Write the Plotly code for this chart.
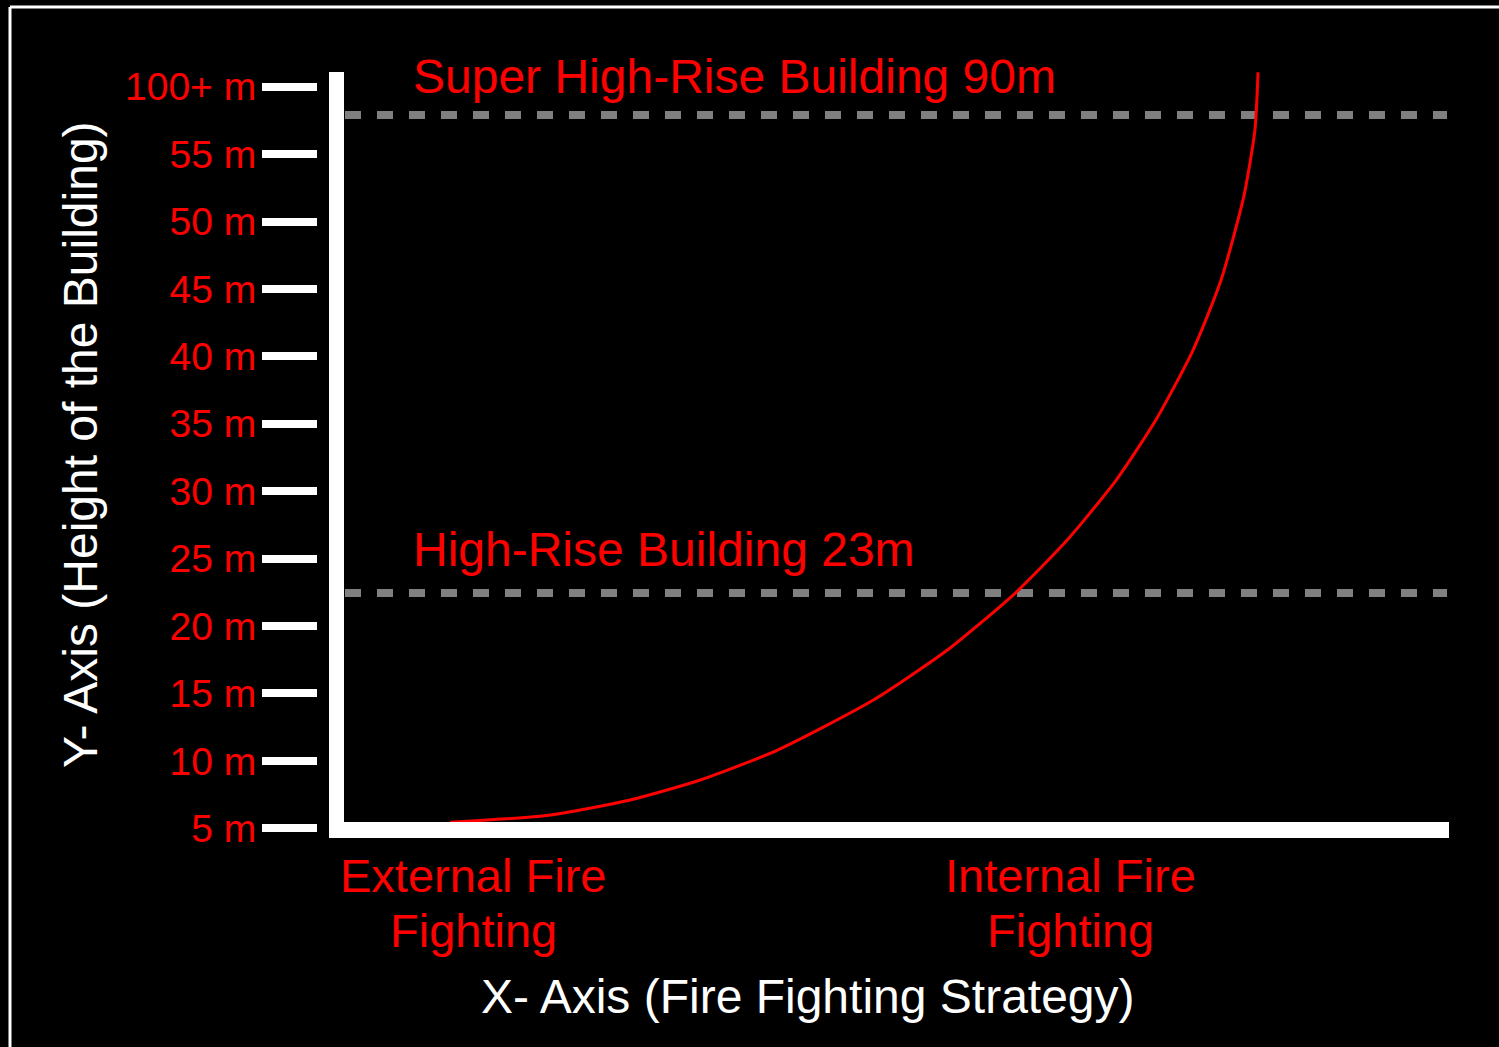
import plotly.graph_objects as go

# ---- data ----
tick_labels = ["5 m", "10 m", "15 m", "20 m", "25 m", "30 m", "35 m", "40 m",
               "45 m", "50 m", "55 m", "100+ m"]
tick_pos = list(range(len(tick_labels)))

# curve (x: strategy position 0..100, y: height in tick-index units)
curve_x = [10.80, 19.64, 26.79, 33.08, 40.00, 48.57, 55.18, 61.25, 65.89, 70.27,
           73.81, 77.14, 79.64, 81.68, 82.67, 82.95]
curve_y = [0.089, 0.193, 0.415, 0.712, 1.157, 1.899, 2.640, 3.486, 4.272, 5.162,
           6.052, 7.090, 8.128, 9.374, 10.353, 11.213]

level_names = ["High-Rise Building 23m", "Super High-Rise Building 90m"]
level_y = [3.49, 10.58]

strategy_labels = [["External Fire", "Fighting"], ["Internal Fire", "Fighting"]]
strategy_x = [12.86, 66.2]

RED = "#ff0000"
FONT = "Liberation Sans, Arial, Helvetica, sans-serif"

W, H = 1499, 1047
ML, MR, MT, MB = 318, 39, 53, 185
plot_w = W - ML - MR
plot_h = H - MT - MB
px_per_x = 11.2
xmin = -(329 - ML) / px_per_x
xmax = xmin + plot_w / px_per_x
ymin, ymax = -0.5, 11.5
px_per_y = plot_h / (ymax - ymin)


def ux(px):
    return xmin + (px - ML) / px_per_x


def uy(py):
    return ymax - (py - MT) / px_per_y


def pxp(px):
    return (px - ML) / plot_w


def pyp(py):
    return 1 - (py - MT) / plot_h


fig = go.Figure()

# dashed reference lines
for ly in level_y:
    fig.add_trace(go.Scatter(
        x=[ux(345), ux(1447)], y=[ly, ly], mode="lines",
        line=dict(color="#808080", width=8, dash="16px,16px"),
        hoverinfo="skip", showlegend=False, cliponaxis=False))

# curve
fig.add_trace(go.Scatter(
    x=curve_x, y=curve_y, mode="lines",
    line=dict(color=RED, width=3, shape="spline", smoothing=0.6),
    hoverinfo="skip", showlegend=False, cliponaxis=False))

shapes = []
# axis bars
shapes.append(dict(type="rect", xref="x", yref="y",
                   x0=ux(329), x1=ux(344), y0=uy(838), y1=uy(72),
                   fillcolor="white", line=dict(width=0), layer="above"))
shapes.append(dict(type="rect", xref="x", yref="y",
                   x0=ux(329), x1=ux(1449), y0=uy(838), y1=uy(822),
                   fillcolor="white", line=dict(width=0), layer="above"))
# frame lines (left and top)
shapes.append(dict(type="line", xref="paper", yref="paper",
                   x0=pxp(10), x1=pxp(10), y0=pyp(H + 5), y1=pyp(7),
                   line=dict(color="white", width=3)))
shapes.append(dict(type="line", xref="paper", yref="paper",
                   x0=pxp(10), x1=pxp(W + 5), y0=pyp(7), y1=pyp(7),
                   line=dict(color="white", width=3)))

annotations = []
# level labels
annotations.append(dict(x=pxp(411), y=pyp(549), xref="paper", yref="paper", text=level_names[0],
                        showarrow=False, xanchor="left", yanchor="middle",
                        font=dict(color=RED, size=48, family=FONT)))
annotations.append(dict(x=pxp(411), y=pyp(76), xref="paper", yref="paper", text=level_names[1],
                        showarrow=False, xanchor="left", yanchor="middle",
                        font=dict(color=RED, size=48, family=FONT)))
# strategy labels
for sx, lines in zip(strategy_x, strategy_labels):
    cx = 329 + sx * px_per_x
    for j, t in enumerate(lines):
        annotations.append(dict(x=pxp(cx), y=pyp(875 + 55 * j), xref="paper", yref="paper", text=t,
                                showarrow=False, xanchor="center", yanchor="middle",
                                font=dict(color=RED, size=47, family=FONT)))
# axis titles
annotations.append(dict(x=pxp(808), y=pyp(996), xref="paper", yref="paper",
                        text="X- Axis (Fire Fighting Strategy)", showarrow=False,
                        xanchor="center", yanchor="middle",
                        font=dict(color="white", size=48, family=FONT)))
annotations.append(dict(x=pxp(81), y=pyp(445), xref="paper", yref="paper",
                        text="Y- Axis (Height of the Building)", showarrow=False,
                        textangle=-90, xanchor="center", yanchor="middle",
                        font=dict(color="white", size=48, family=FONT)))

fig.update_layout(
    width=W, height=H,
    paper_bgcolor="black", plot_bgcolor="black",
    margin=dict(l=ML, r=MR, t=MT, b=MB, autoexpand=False),
    showlegend=False,
    shapes=shapes, annotations=annotations,
    xaxis=dict(range=[xmin, xmax], showgrid=False, zeroline=False, showline=False,
               showticklabels=False, ticks="", fixedrange=True),
    yaxis=dict(range=[ymin, ymax], showgrid=False, zeroline=False, showline=False,
               tickmode="array", tickvals=tick_pos, ticktext=tick_labels,
               ticks="outside", ticklen=55, tickwidth=8, tickcolor="white",
               ticklabelstandoff=-2,
               tickfont=dict(color=RED, size=39, family=FONT), fixedrange=True),
)

fig.write_html("out.html", config={"displayModeBar": False},
               post_script="document.body.style.margin='0';document.body.style.background='black';")
